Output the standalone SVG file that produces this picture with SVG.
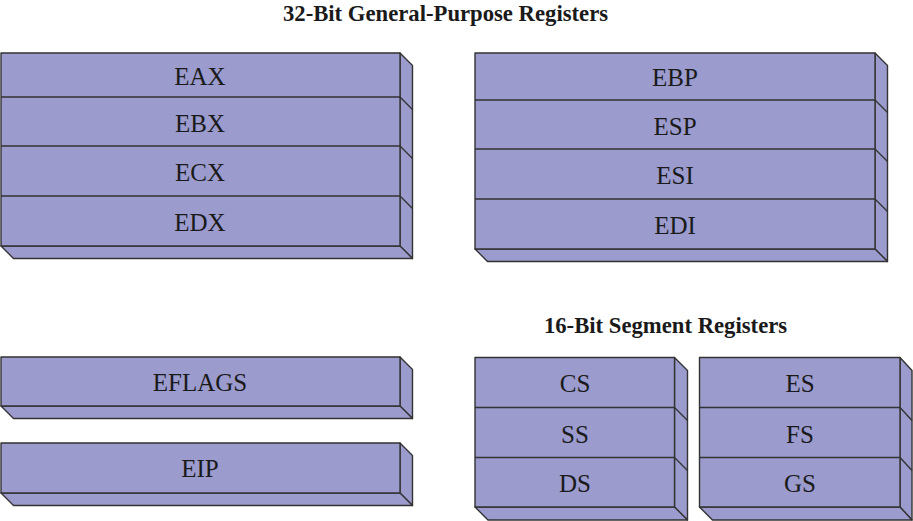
<svg xmlns="http://www.w3.org/2000/svg" width="913" height="521" viewBox="0 0 913 521">
<style>
.f{fill:#9b9bce;stroke:#333;stroke-width:1.4;stroke-linejoin:round}
.l{fill:none;stroke:#333;stroke-width:1.4}
.t{font-family:"Liberation Serif","Times New Roman",Tinos,serif;font-size:25px;fill:#1a1a1a;text-anchor:middle}
.h{font-family:"Liberation Serif","Times New Roman",Tinos,serif;font-size:22.7px;font-weight:bold;fill:#1a1a1a;text-anchor:middle}
</style>
<rect width="913" height="521" fill="#fff"/>
<text class="h" x="445.5" y="20.5">32-Bit General-Purpose Registers</text>
<text class="h" x="665.5" y="333">16-Bit Segment Registers</text>

<g id="gp-left">
<polygon class="f" points="400,53 412.5,65.5 412.5,258.5 400,246"/>
<polygon class="f" points="1,246 400,246 412.5,258.5 13.5,258.5"/>
<rect class="f" x="1" y="53" width="399" height="193"/>
<path class="l" d="M1,97H400M1,146H400M1,196H400M400,97l12.5,12.5M400,146l12.5,12.5M400,196l12.5,12.5"/>
<g id="eax"><text class="t" x="200" y="85">EAX</text></g>
<g id="ebx"><text class="t" x="200" y="132">EBX</text></g>
<g id="ecx"><text class="t" x="200" y="181">ECX</text></g>
<g id="edx"><text class="t" x="200" y="231">EDX</text></g>
</g>

<g id="gp-right">
<polygon class="f" points="875,53 887.5,65.5 887.5,261.5 875,249"/>
<polygon class="f" points="475,249 875,249 887.5,261.5 487.5,261.5"/>
<rect class="f" x="475" y="53" width="400" height="196"/>
<path class="l" d="M475,100H875M475,149H875M475,199H875M875,100l12.5,12.5M875,149l12.5,12.5M875,199l12.5,12.5"/>
<g id="ebp"><text class="t" x="675" y="86">EBP</text></g>
<g id="esp"><text class="t" x="675" y="135">ESP</text></g>
<g id="esi"><text class="t" x="675" y="184">ESI</text></g>
<g id="edi"><text class="t" x="675" y="234">EDI</text></g>
</g>

<g id="eflags">
<polygon class="f" points="400,357 412.5,369.5 412.5,418.5 400,406"/>
<polygon class="f" points="1,406 400,406 412.5,418.5 13.5,418.5"/>
<rect class="f" x="1" y="357" width="399" height="49"/>
<text class="t" x="200" y="391">EFLAGS</text>
</g>

<g id="eip">
<polygon class="f" points="400,443 412.5,455.5 412.5,505.5 400,493"/>
<polygon class="f" points="1,493 400,493 412.5,505.5 13.5,505.5"/>
<rect class="f" x="1" y="443" width="399" height="50"/>
<text class="t" x="200" y="477">EIP</text>
</g>

<g id="seg-left">
<polygon class="f" points="674.5,357.5 687.5,370.5 687.5,520 674.5,507"/>
<polygon class="f" points="475,507 674.5,507 687.5,520 488,520"/>
<rect class="f" x="475" y="357.5" width="199.5" height="149.5"/>
<path class="l" d="M475,407.5H674.5M475,457.5H674.5M674.5,407.5l13,13M674.5,457.5l13,13"/>
<g id="cs"><text class="t" x="575" y="392">CS</text></g>
<g id="ss"><text class="t" x="575" y="443">SS</text></g>
<g id="ds"><text class="t" x="575" y="492">DS</text></g>
</g>

<g id="seg-right">
<polygon class="f" points="900,357.5 912,370.5 912,520 900,507"/>
<polygon class="f" points="699.5,507 900,507 912,520 712.5,520"/>
<rect class="f" x="699.5" y="357.5" width="200.5" height="149.5"/>
<path class="l" d="M699.5,407.5H900M699.5,457.5H900M900,407.5l12,13M900,457.5l12,13"/>
<g id="es"><text class="t" x="800" y="392">ES</text></g>
<g id="fs"><text class="t" x="800" y="443">FS</text></g>
<g id="gs"><text class="t" x="800" y="492">GS</text></g>
</g>
<g id="connectors"/>
</svg>
